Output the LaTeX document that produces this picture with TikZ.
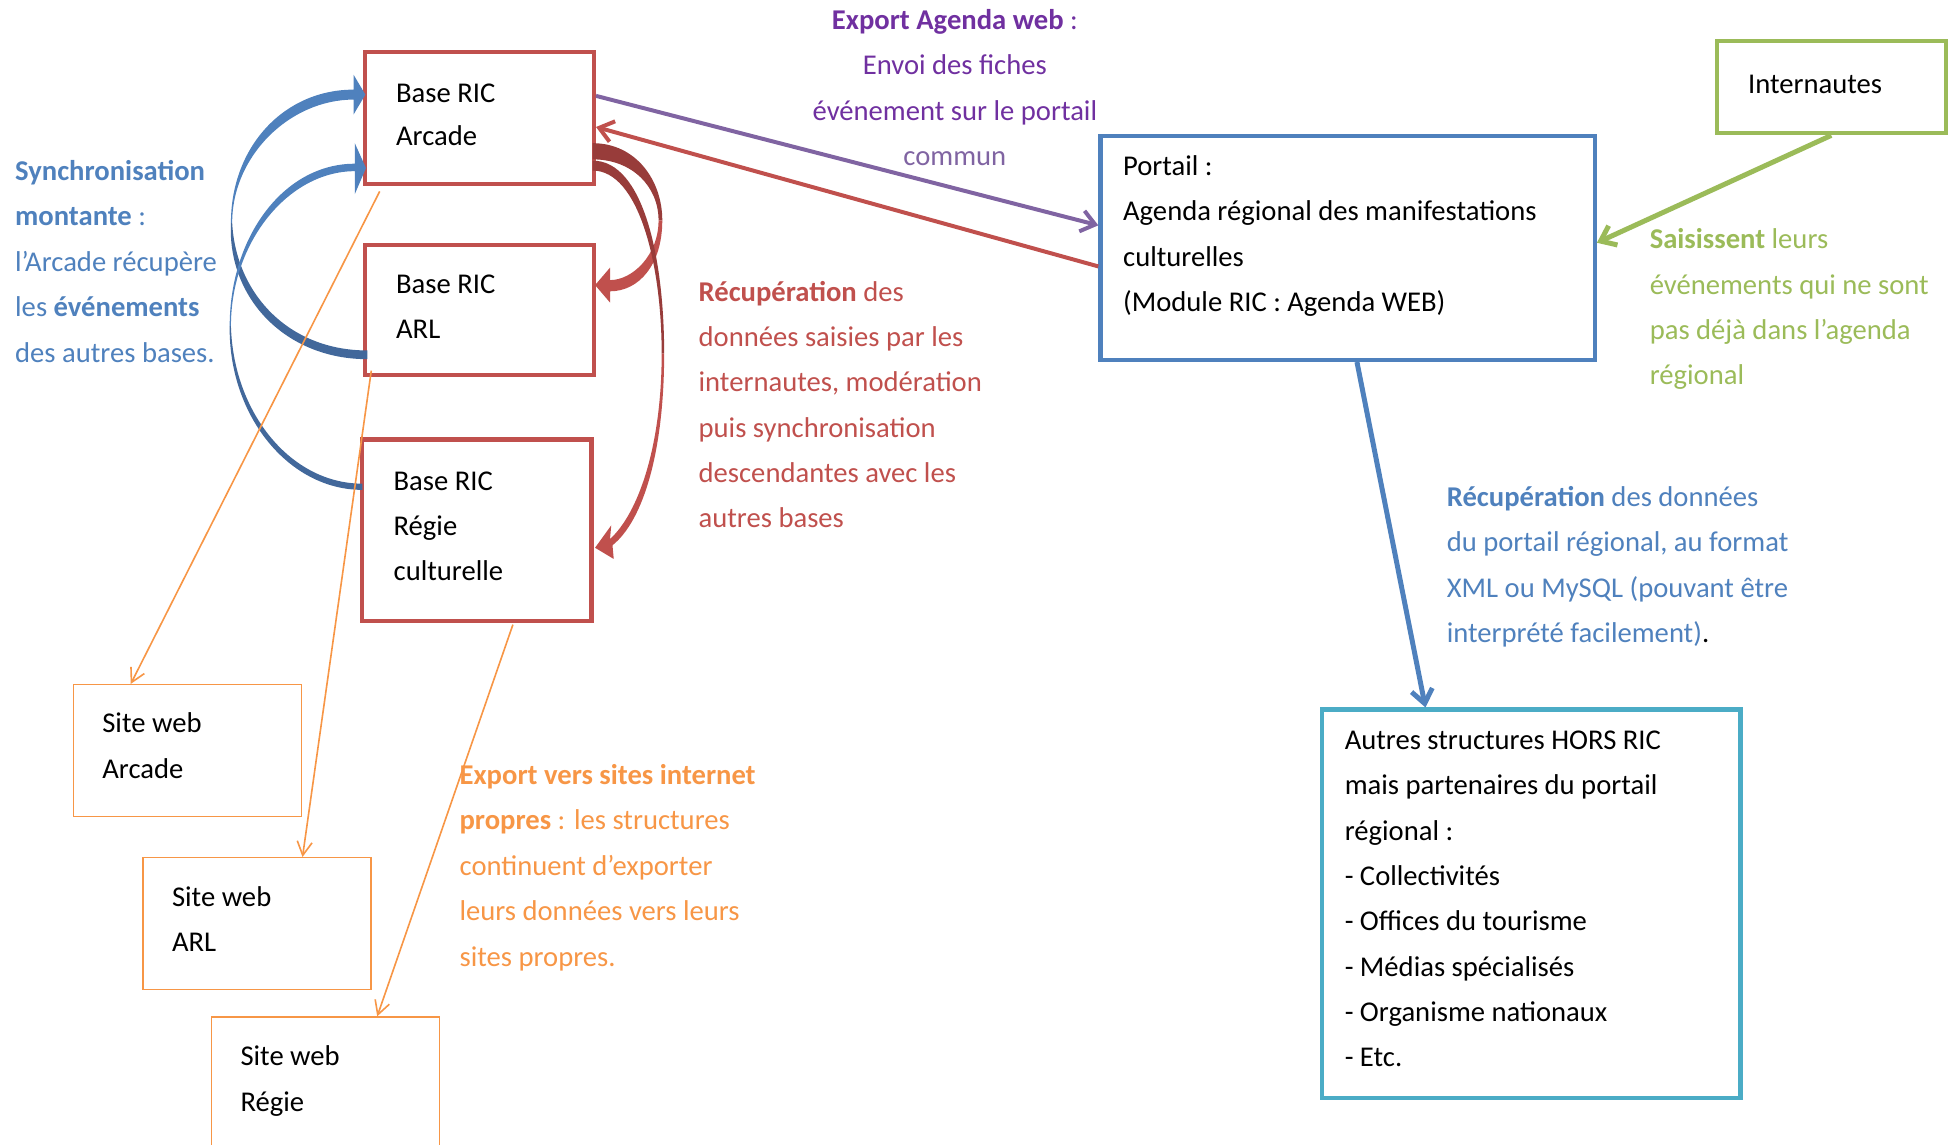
\documentclass[tikz,border=0pt]{standalone}
\usepackage{fontspec}
\setmainfont{Carlito}
\usetikzlibrary{arrows.meta,calc}
\definecolor{cred}{HTML}{C0504D}
\definecolor{cdred}{RGB}{152,60,58}
\definecolor{corange}{HTML}{F79646}
\definecolor{cblue}{HTML}{4F81BD}
\definecolor{cdblue}{RGB}{66,104,155}
\definecolor{cgreen}{HTML}{9BBB59}
\definecolor{cpurple}{HTML}{8064A2}
\definecolor{ctpurple}{HTML}{7030A0}
\definecolor{cteal}{HTML}{4BACC6}
\begin{document}
\begin{tikzpicture}[x=1pt,y=-1pt,
  txt/.style={anchor=base west,inner sep=0pt,yshift=-1pt,font=\fontsize{23}{27}\selectfont},
  ctxt/.style={anchor=base,inner sep=0pt,yshift=-1pt,font=\fontsize{23}{27}\selectfont},
  redbox/.style={draw=cred,line width=3.5pt,minimum width=184pt,inner sep=0pt},
  sitebox/.style={draw=corange,line width=1.2pt,minimum width=183pt,minimum height=106pt,inner sep=0pt},
  barb/.style={-{Straight Barb[length=11pt,width=17pt]}},
  thinbarb/.style={-{Straight Barb[length=11pt,width=12pt]}},
  purpleline/.style={barb,draw=cpurple,line width=3.2pt},
  redline/.style={barb,draw=cred,line width=3.2pt},
  greenline/.style={barb,draw=cgreen,line width=4pt},
  blueline/.style={barb,draw=cblue,line width=4pt},
  orangeline/.style={thinbarb,draw=corange,line width=1.3pt}]
\useasboundingbox (0,0) rectangle (1568,919);
\clip (0,0) rectangle (1568,919);

% boxes
\node[redbox,minimum height=106pt] (arcade) at (385,95) {};
\node[redbox,minimum height=104pt] (arl) at (385,249) {};
\node[redbox,minimum height=146pt] (regie) at (383,426) {};
\node[sitebox] (swA) at (150.5,603) {};
\node[sitebox] (swL) at (206.5,742) {};
\node[sitebox,minimum height=143pt] (swR) at (261.5,888.5) {};
\node[draw=cblue,line width=3.5pt,minimum width=397pt,minimum height=180pt,inner sep=0pt] (portail) at (1082.5,199) {};
\node[draw=cgreen,line width=3.5pt,minimum width=184pt,minimum height=74pt,inner sep=0pt] (intern) at (1471,70) {};
\node[draw=cteal,line width=3.5pt,minimum width=336pt,minimum height=312pt,inner sep=0pt] (autres) at (1230,726) {};

% box texts
\node[txt] (t-arc1) at (318,81) {Base RIC};
\node[txt] (t-arc2) at (318,116) {Arcade};
\node[txt] (t-arl1) at (318,235) {Base RIC};
\node[txt] (t-arl2) at (318,271) {ARL};
\node[txt] (t-reg1) at (316,393) {Base RIC};
\node[txt] (t-reg2) at (316,429) {Régie};
\node[txt] (t-reg3) at (316,465) {culturelle};
\node[txt] (t-swa1) at (82,587) {Site web};
\node[txt] (t-swa2) at (82,624) {Arcade};
\node[txt] (t-swl1) at (138,727) {Site web};
\node[txt] (t-swl2) at (138,763) {ARL};
\node[txt] (t-swr1) at (193,855) {Site web};
\node[txt] (t-swr2) at (193,892) {Régie};
\node[txt] (t-int) at (1404,74) {Internautes};
\foreach \t [count=\i] in {{Portail :},{Agenda régional des manifestations},{culturelles},{(Module RIC : Agenda WEB)}}
  \node[txt] (t-por\i) at (902,{140+36.4*(\i-1)}) {\t};
\foreach \t [count=\i] in {{Autres structures HORS RIC},{mais partenaires du portail},{régional :},{- Collectivités},{- Offices du tourisme},{- Médias spécialisés},{- Organisme nationaux},{- Etc.}}
  \node[txt] (t-aut\i) at (1080,{601+36.4*(\i-1)}) {\t};

% annotation texts
\foreach \t [count=\i] in {{\textbf{Export Agenda web} :},{Envoi des fiches},{événement sur le portail}}
  \node[ctxt,text=ctpurple] (t-exp\i) at (767,{23+36.2*(\i-1)}) {\t};
\node[ctxt,text=cpurple] (t-exp4) at (767,132) {commun};
\foreach \t [count=\i] in {{\textbf{Synchronisation}},{\textbf{montante} :},{l’Arcade récupère},{les \textbf{événements}},{des autres bases.}}
  \node[txt,text=cblue] (t-syn\i) at (12,{144+36.5*(\i-1)}) {\t};
\foreach \t [count=\i] in {{\textbf{Récupération} des},{données saisies par les},{internautes, modération},{puis synchronisation},{descendantes avec les},{autres bases}}
  \node[txt,text=cred] (t-rec\i) at (561,{241+36.4*(\i-1)}) {\t};
\foreach \t [count=\i] in {{\textbf{Saisissent} leurs},{événements qui ne sont},{pas déjà dans l’agenda},{régional}}
  \node[txt,text=cgreen] (t-sai\i) at (1325,{199+36.4*(\i-1)}) {\t};
\foreach \t [count=\i] in {{\textbf{Récupération} des données},{du portail régional, au format},{XML ou MySQL (pouvant être},{interprété facilement)\textcolor{black}{.}}}
  \node[txt,text=cblue] (t-rcb\i) at (1162,{406+36.4*(\i-1)}) {\t};
\foreach \t [count=\i] in {{\textbf{Export vers sites internet}},{\textbf{propres} : les structures},{continuent d’exporter},{leurs données vers leurs},{sites propres.}}
  \node[txt,text=corange] (t-eso\i) at (369,{629+36.5*(\i-1)}) {\t};

% curved blue arrows (synchronisation montante)
\fill[cdblue] (295,288.5) .. controls (230,288.5) and (182.5,240) .. (185.5,179)
  -- (186.5,179) .. controls (189.5,236) and (232,281.5) .. (295,281.5) -- cycle;
\fill[cblue] (185.5,179) .. controls (185.5,118) and (228,72) .. (284,72)
  -- (284,60) -- (293.5,76) -- (284,92) -- (284,80)
  .. controls (233,80) and (186.5,125) .. (186.5,179) -- cycle;
\fill[cdblue] (291,393.5) .. controls (232,393.5) and (183.5,334) .. (184.5,262)
  -- (185.5,262) .. controls (187.5,332) and (234,388.5) .. (291,388.5) -- cycle;
\fill[cblue] (184.5,262) .. controls (184.5,190) and (228,131.5) .. (285,131.5)
  -- (285,115) -- (294,135) -- (285,156) -- (285,137.5)
  .. controls (232,137.5) and (185.5,194) .. (185.5,262) -- cycle;

% curved red arrows (recuperation)
\fill[cdred] (476,115) .. controls (511,115) and (532,145) .. (532,177)
  -- (529,177) .. controls (529,150) and (508,128) .. (476,128) -- cycle;
\fill[cred] (532,177) .. controls (532,213) and (513,234) .. (490,234)
  -- (490,243) -- (478,229) -- (490,215) -- (490,225)
  .. controls (508,225) and (529,205) .. (529,177) -- cycle;
\fill[cdred] (476,129) .. controls (517,129) and (533.5,208) .. (533.5,284)
  -- (531.5,284) .. controls (531.5,212) and (513,137) .. (476,137) -- cycle;
\fill[cred] (533.5,284) .. controls (533.5,362) and (517,418) .. (492,438)
  -- (493,449) -- (478,440) -- (491,422) -- (490,433)
  .. controls (513,412) and (531.5,358) .. (531.5,284) -- cycle;

% straight connectors
\draw[purpleline] ([yshift=18pt]arcade.east) -- ([yshift=18pt]portail.west);
\draw[redline] ([yshift=-15pt]portail.west) -- ([yshift=-7pt]arcade.east);
\draw[greenline] (intern.south) -- ([yshift=4pt]portail.east);
\draw[blueline] ([xshift=7.5pt]portail.south) -- ([xshift=-85pt]autres.north);
\draw[orangeline] ([xshift=-80pt,yshift=-4pt]arcade.south) -- ([xshift=-45.5pt]swA.north);
\draw[orangeline] ([xshift=7pt,yshift=5pt]arl.south west) -- ([xshift=36.5pt]swL.north);
\draw[orangeline] ([xshift=29pt,yshift=-1pt]regie.south) -- ([xshift=41.5pt]swR.north);
\end{tikzpicture}
\end{document}
